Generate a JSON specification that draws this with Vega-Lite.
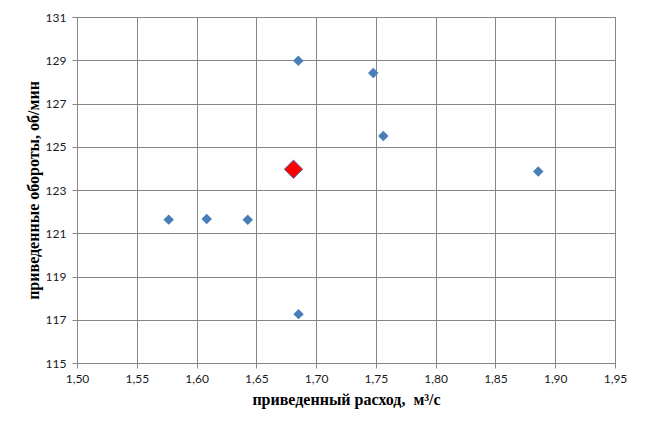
{
  "$schema": "https://vega.github.io/schema/vega-lite/v6.json",
  "width": 538,
  "height": 346,
  "autosize": {"type": "none"},
  "padding": {"left": 77, "top": 17, "right": 39, "bottom": 68},
  "background": "white",
  "config": {
    "locale": {"number": {"decimal": ",", "thousands": " ", "grouping": [3], "currency": ["", ""]}},
    "view": {"stroke": "#868686", "strokeWidth": 1},
    "axis": {
      "gridColor": "#868686",
      "gridOpacity": 1,
      "gridWidth": 1,
      "domainColor": "#868686",
      "tickColor": "#868686",
      "tickSize": 5,
      "labelFont": "Lato",
      "labelFontSize": 12,
      "labelColor": "#1a1a1a",
      "titleFont": "Liberation Serif",
      "titleFontSize": 16,
      "titleFontWeight": "bold",
      "titleColor": "#000000"
    }
  },
  "data": {
    "values": [
      {"q": 1.6851, "n": 128.98, "kind": "data"},
      {"q": 1.7478, "n": 128.41, "kind": "data"},
      {"q": 1.7562, "n": 125.50, "kind": "data"},
      {"q": 1.8858, "n": 123.86, "kind": "data"},
      {"q": 1.5767, "n": 121.63, "kind": "data"},
      {"q": 1.6085, "n": 121.66, "kind": "data"},
      {"q": 1.6428, "n": 121.62, "kind": "data"},
      {"q": 1.6853, "n": 117.26, "kind": "data"},
      {"q": 1.6811, "n": 123.96, "kind": "design"}
    ]
  },
  "mark": {"type": "point", "shape": "diamond", "filled": true, "opacity": 1},
  "encoding": {
    "x": {
      "field": "q",
      "type": "quantitative",
      "scale": {"domain": [1.5, 1.95], "nice": false, "zero": false},
      "axis": {
        "values": [1.5, 1.55, 1.6, 1.65, 1.7, 1.75, 1.8, 1.85, 1.9, 1.95],
        "format": ".2f",
        "labelPadding": 5,
        "title": "приведенный расход,\u00a0 м³/с",
        "titlePadding": 7,
        "labelFlush": false
      }
    },
    "y": {
      "field": "n",
      "type": "quantitative",
      "scale": {"domain": [115, 131], "nice": false, "zero": false},
      "axis": {
        "values": [115, 117, 119, 121, 123, 125, 127, 129, 131],
        "format": "d",
        "labelPadding": 6,
        "title": "приведенные обороты, об/мин",
        "titlePadding": 4,
        "labelFlush": false
      }
    },
    "color": {
      "field": "kind",
      "type": "nominal",
      "scale": {"domain": ["data", "design"], "range": ["#4A7EBB", "#FF0000"]},
      "legend": null
    },
    "stroke": {
      "field": "kind",
      "type": "nominal",
      "scale": {"domain": ["data", "design"], "range": ["#4A7EBB", "#4A7EBB"]},
      "legend": null
    },
    "strokeWidth": {
      "field": "kind",
      "type": "nominal",
      "scale": {"domain": ["data", "design"], "range": [0, 1]},
      "legend": null
    },
    "size": {
      "field": "kind",
      "type": "nominal",
      "scale": {"domain": ["data", "design"], "range": [110, 340]},
      "legend": null
    }
  }
}
